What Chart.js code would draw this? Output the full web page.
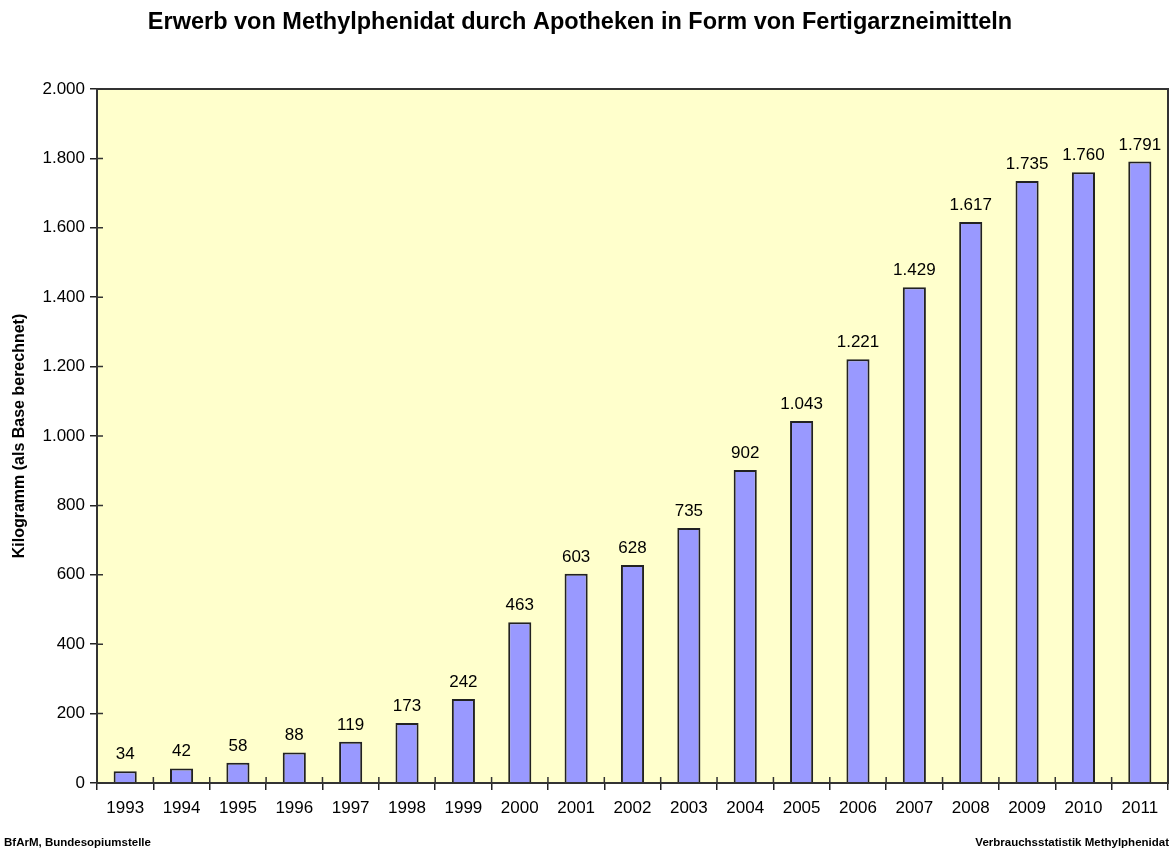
<!DOCTYPE html>
<html>
<head>
<meta charset="utf-8">
<script src="https://cdn.jsdelivr.net/npm/chart.js@4/dist/chart.umd.min.js"></script>
<style>
  html, body { margin: 0; padding: 0; background: #fff; }
  #wrap { width: 1175px; height: 850px; position: relative; }
</style>
</head>
<body>
<div id="wrap"><canvas id="chart" width="1175" height="850"></canvas></div>
<script>
const years = ['1993', '1994', '1995', '1996', '1997', '1998', '1999', '2000', '2001', '2002',
  '2003', '2004', '2005', '2006', '2007', '2008', '2009', '2010', '2011'];
const kilograms = [34, 42, 58, 88, 119, 173, 242, 463, 603, 628, 735, 902, 1043, 1221, 1429, 1617, 1735, 1760, 1791];
const titleText = 'Erwerb von Methylphenidat durch Apotheken in Form von Fertigarzneimitteln';
const yTitle = 'Kilogramm (als Base berechnet)';
const footLeft = 'BfArM, Bundesopiumstelle';
const footRight = 'Verbrauchsstatistik Methylphenidat';

const FONT = '"Liberation Sans", Arial, sans-serif';

// German thousands separator
function fmt(v) {
  return String(v).replace(/\B(?=(\d{3})+(?!\d))/g, '.');
}

const decor = {
  id: 'decor',
  beforeDraw(chart) {
    const { ctx, chartArea: a } = chart;
    ctx.save();
    ctx.fillStyle = '#FFFFCC';
    ctx.fillRect(a.left, a.top, a.right - a.left, a.bottom - a.top);
    ctx.restore();
  },
  afterDraw(chart) {
    const { ctx, chartArea: a } = chart;
    const xs = chart.scales.x, ys = chart.scales.y;
    ctx.save();
    ctx.strokeStyle = '#333';
    ctx.lineWidth = 2;
    ctx.strokeRect(a.left, a.top, a.right - a.left, a.bottom - a.top);

    // tick marks poke a little into the plot area too
    ctx.lineWidth = 1.5;
    ctx.beginPath();
    ys.ticks.forEach((t, i) => {
      const y = ys.getPixelForTick(i);
      ctx.moveTo(a.left, y); ctx.lineTo(a.left + 6, y);
    });
    for (let i = 1; i < years.length; i++) {
      const x = (xs.getPixelForTick(i - 1) + xs.getPixelForTick(i)) / 2;
      ctx.moveTo(x, a.bottom); ctx.lineTo(x, a.bottom - 6);
    }
    ctx.stroke();

    // value labels above bars
    ctx.fillStyle = '#000';
    ctx.font = '17px ' + FONT;
    ctx.textAlign = 'center';
    ctx.textBaseline = 'alphabetic';
    chart.getDatasetMeta(0).data.forEach((bar, i) => {
      ctx.fillText(fmt(kilograms[i]), bar.x, bar.y - 12);
    });

    // title
    ctx.font = 'bold 23.5px ' + FONT;
    ctx.textBaseline = 'middle';
    ctx.fillText(titleText, 580, 23);

    // footers
    ctx.font = 'bold 11.5px ' + FONT;
    ctx.textAlign = 'left';
    ctx.fillText(footLeft, 4, 843);
    ctx.textAlign = 'right';
    ctx.fillText(footRight, 1169, 843);
    ctx.restore();
  }
};

new Chart(document.getElementById('chart'), {
  type: 'bar',
  data: {
    labels: years,
    datasets: [{
      data: kilograms,
      backgroundColor: '#9999FF',
      borderColor: '#222',
      borderWidth: 2,
      barPercentage: 0.41,
      categoryPercentage: 1
    }]
  },
  options: {
    responsive: false,
    animation: false,
    layout: { padding: { top: 89, right: 7, bottom: 30, left: 0 } },
    plugins: { legend: { display: false }, tooltip: { enabled: false } },
    scales: {
      x: {
        afterFit(s) { s.height = 37; },
        grid: { drawOnChartArea: false, drawTicks: true, tickLength: 7, color: '#222', lineWidth: 1.5, offset: true },
        border: { display: false },
        ticks: { color: '#000', font: { family: FONT, size: 17 }, padding: 8, maxRotation: 0 }
      },
      y: {
        min: 0, max: 2000,
        afterFit(s) { s.width = 97; },
        grid: { drawOnChartArea: false, drawTicks: true, tickLength: 7, color: '#222', lineWidth: 1.5 },
        border: { display: false },
        ticks: { stepSize: 200, color: '#000', font: { family: FONT, size: 17 }, padding: 5,
          callback: v => fmt(v) },
        title: { display: true, text: yTitle, color: '#000', font: { family: FONT, size: 16, weight: 'bold' }, padding: { top: 10, bottom: 0 } }
      }
    }
  },
  plugins: [decor]
});
</script>
</body>
</html>
